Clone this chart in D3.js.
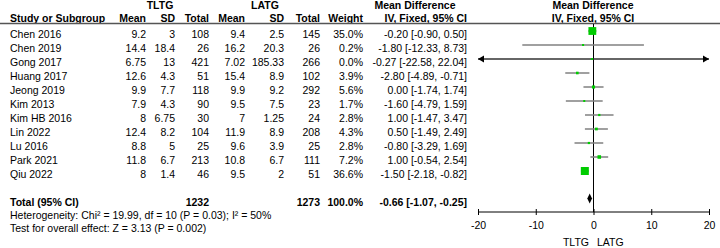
<!DOCTYPE html>
<html><head><meta charset="utf-8">
<script src="https://cdn.jsdelivr.net/npm/d3@7"></script>
<style>
html,body{margin:0;padding:0;background:#fff;}
svg{display:block;font-family:Arial,"Liberation Sans",sans-serif;}
</style></head>
<body>
<svg id="c" width="720" height="248"></svg>
<script>
const studies = ["Chen 2016","Chen 2019","Gong 2017","Huang 2017","Jeong 2019","Kim 2013","Kim HB 2016","Lin 2022","Lu 2016","Park 2021","Qiu 2022"];
const tltgMean = [9.2,14.4,6.75,12.6,9.9,7.9,8,12.4,8.8,11.8,8];
const tltgSD   = [3,18.4,13,4.3,7.7,4.3,6.75,8.2,5,6.7,1.4];
const tltgN    = [108,26,421,51,118,90,30,104,25,213,46];
const latgMean = [9.4,16.2,7.02,15.4,9.9,9.5,7,11.9,9.6,10.8,9.5];
const latgSD   = [2.5,20.3,185.33,8.9,9.2,7.5,1.25,8.9,3.9,6.7,2];
const latgN    = [145,26,266,102,292,23,24,208,25,111,51];
const weights  = [35.0,0.2,0.0,3.9,5.6,1.7,2.8,4.3,2.8,7.2,36.6];
const md       = [-0.20,-1.80,-0.27,-2.80,0.00,-1.60,1.00,0.50,-0.80,1.00,-1.50];
const ciLow    = [-0.90,-12.33,-22.58,-4.89,-1.74,-4.79,-1.47,-1.49,-3.29,-0.54,-2.18];
const ciHigh   = [0.50,8.73,22.04,-0.71,1.74,1.59,3.47,2.49,1.69,2.54,-0.82];
const totalTLTG = 1232, totalLATG = 1273, totalWeight = 100.0;
const totalMD = [-0.66, -1.07, -0.25];
const axisTicks = [-20,-10,0,10,20];
const hetText = "Heterogeneity: Chi\u00B2 = 19.99, df = 10 (P = 0.03); I\u00B2 = 50%";
const testText = "Test for overall effect: Z = 3.13 (P = 0.002)";

const svg = d3.select("#c");
const FS = 10.5;
const x = d3.scaleLinear().domain([-20,20]).range([478,709]);
const y = d3.scalePoint().domain(studies).range([31,171]);
const tb = 6; // text baseline offset

function txt(g, xx, yy, s, anchor, bold){
  return g.append("text").attr("x",xx).attr("y",yy).attr("text-anchor",anchor||"start")
   .attr("font-size",FS).attr("font-weight",bold?"bold":"normal").attr("fill","#000").text(s);
}
const f2 = v => v.toFixed(2);
const ciStr = (m,l,h) => `${f2(m)} [${f2(l)}, ${f2(h)}]`;

// headers
txt(svg,160,9,"TLTG","middle",true);
txt(svg,265,9,"LATG","middle",true);
txt(svg,415,9,"Mean Difference","middle",true);
txt(svg,593,9,"Mean Difference","middle",true);
txt(svg,10,21.5,"Study or Subgroup","start",true);
const hdrCols = [["Mean",146],["SD",175],["Total",209],["Mean",245],["SD",284],["Total",320],["Weight",363],["IV, Fixed, 95% CI",467]];
hdrCols.forEach(([s,xx])=>txt(svg,xx,21.5,s,"end",true));
txt(svg,593,21.5,"IV, Fixed, 95% CI","middle",true);
svg.append("line").attr("x1",0).attr("x2",720).attr("y1",23.5).attr("y2",23.5).attr("stroke","#555").attr("stroke-width",1.5);

// rows
const rows = svg.append("g");
studies.forEach((s,i)=>{
  const yy = y(s)+tb+0.5;
  txt(rows,10,yy,s);
  txt(rows,146,yy,String(tltgMean[i]),"end");
  txt(rows,175,yy,String(tltgSD[i]),"end");
  txt(rows,209,yy,String(tltgN[i]),"end");
  txt(rows,245,yy,String(latgMean[i]),"end");
  txt(rows,284,yy,String(latgSD[i]),"end");
  txt(rows,320,yy,String(latgN[i]),"end");
  txt(rows,363,yy,weights[i].toFixed(1)+"%","end");
  txt(rows,467,yy,ciStr(md[i],ciLow[i],ciHigh[i]),"end");
});

// total row
const ty = 205.5;
txt(svg,10,ty,"Total (95% CI)","start",true);
txt(svg,209,ty,String(totalTLTG),"end",true);
txt(svg,320,ty,String(totalLATG),"end",true);
txt(svg,363,ty,totalWeight.toFixed(1)+"%","end",true);
txt(svg,467,ty,ciStr(totalMD[0],totalMD[1],totalMD[2]),"end",true);
txt(svg,10,219,hetText);
txt(svg,10,232,testText);

// plot
const axisY = 212;
svg.append("line").attr("x1",x(0)).attr("x2",x(0)).attr("y1",24).attr("y2",axisY).attr("stroke","#000").attr("stroke-width",1);

const plot = svg.append("g");
studies.forEach((s,i)=>{
  const yy = y(s);
  const lo = Math.max(ciLow[i],-20), hi = Math.min(ciHigh[i],20);
  plot.append("line").attr("x1",x(lo)).attr("x2",x(hi)).attr("y1",yy).attr("y2",yy)
    .attr("stroke", (ciLow[i]<-20||ciHigh[i]>20) ? "#333" : "#808080").attr("stroke-width",1.5);
  if(ciLow[i]<-20){
    plot.append("path").attr("d",`M${x(-20)},${yy} l6,-3.5 l0,7 z`).attr("fill","#000");
  }
  if(ciHigh[i]>20){
    plot.append("path").attr("d",`M${x(20)},${yy} l-6,-3.5 l0,7 z`).attr("fill","#000");
  }
  const side = Math.max(2, 8*Math.sqrt(weights[i]/36.6));
  plot.append("rect").attr("x",x(md[i])-side/2).attr("y",yy-side/2).attr("width",side).attr("height",side)
    .attr("fill","#00cc00");
});

// diamond
const dy = 198.5;
svg.append("path").attr("d",`M${x(totalMD[1])},${dy} L${x(totalMD[0])},${dy-5} L${x(totalMD[2])},${dy} L${x(totalMD[0])},${dy+5} Z`).attr("fill","#000");

// axis
const ax = svg.append("g").attr("transform",`translate(0,${axisY})`)
  .call(d3.axisBottom(x).tickValues(axisTicks).tickSize(3).tickFormat(d3.format("d")));
ax.select(".domain").attr("stroke","#000").attr("d",`M${x(-20)},0H${x(20)}`);
ax.selectAll(".tick line").attr("y1",-3).attr("y2",3).attr("stroke","#000");
ax.selectAll(".tick text").attr("font-size",FS).attr("font-family","Arial,'Liberation Sans',sans-serif")
  .attr("y",10).attr("dy","0.71em").attr("fill","#000").text(d=>String(d).replace("\u2212","-"));

txt(svg,589,246,"TLTG","end");
txt(svg,597,246,"LATG","start");
</script>
</body></html>
